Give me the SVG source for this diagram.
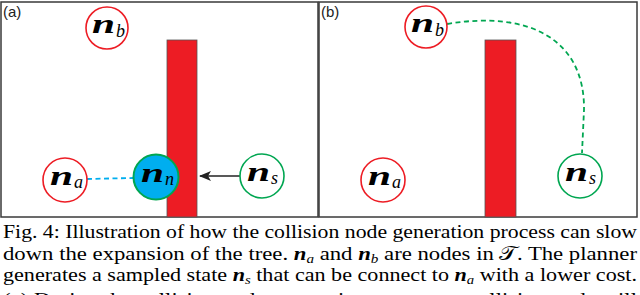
<svg xmlns="http://www.w3.org/2000/svg" width="640" height="295" viewBox="0 0 640 295">
<defs>
<style>
.panel{fill:#fff;stroke:#3a3a3a;stroke-width:1.5}
.bar{fill:#ED1C24;stroke:#555;stroke-width:0.8}
.red{fill:#fff;stroke:#ED1C24;stroke-width:1.6}
.grn{fill:#fff;stroke:#00A651;stroke-width:1.6}
.nn{fill:#00AEEF;stroke:#00A651;stroke-width:2}
</style>
<marker id="ah" viewBox="0 0 12 10" refX="11" refY="5" markerWidth="12" markerHeight="10" markerUnits="userSpaceOnUse" orient="auto">
<path d="M0,0 L12,5 L0,10 L3,5 Z" fill="#222"/>
</marker>
</defs>
<rect class="panel" x="1" y="2" width="317" height="215"/>
<rect class="panel" x="319" y="2" width="318" height="215"/>
<g font-family="Liberation Sans" font-size="15" fill="#222">
<text x="3" y="17">(a)</text>
<text x="321" y="17">(b)</text>
</g>
<rect class="bar" x="167" y="40" width="30" height="177"/>
<rect class="bar" x="485" y="40" width="31" height="177"/>
<g id="connectors">
<line x1="87" y1="179" x2="133" y2="178" stroke="#00AEEF" stroke-width="1.8" stroke-dasharray="5,3.5"/>
<line x1="240" y1="176" x2="200" y2="176" stroke="#222" stroke-width="1.6" marker-end="url(#ah)"/>
<path d="M447,24 C530,10 585,40 584,110 L582,153" fill="none" stroke="#00A651" stroke-width="1.8" stroke-dasharray="5,3.5"/>
</g>
<g font-family="Liberation Serif" fill="#000">
<g id="a_nb"><circle class="red" cx="107" cy="28" r="21"/><text x="92" y="33" font-size="27" font-style="italic" font-weight="bold" textLength="23" lengthAdjust="spacingAndGlyphs">n</text><text x="116" y="37" font-size="18" font-style="italic">b</text></g>
<g id="a_na"><circle class="red" cx="65" cy="180" r="22"/><text x="50" y="185" font-size="27" font-style="italic" font-weight="bold" textLength="23" lengthAdjust="spacingAndGlyphs">n</text><text x="74" y="188" font-size="18" font-style="italic">a</text></g>
<g id="a_nn"><circle class="nn" cx="156" cy="177" r="22.5"/><text x="141" y="182" font-size="27" font-style="italic" font-weight="bold" textLength="23" lengthAdjust="spacingAndGlyphs">n</text><text x="165" y="185" font-size="18" font-style="italic">n</text></g>
<g id="a_ns"><circle class="grn" cx="262" cy="176" r="22"/><text x="247" y="181" font-size="27" font-style="italic" font-weight="bold" textLength="23" lengthAdjust="spacingAndGlyphs">n</text><text x="271" y="184" font-size="18" font-style="italic">s</text></g>
<g id="b_nb"><circle class="red" cx="426" cy="27" r="21"/><text x="411" y="32" font-size="27" font-style="italic" font-weight="bold" textLength="23" lengthAdjust="spacingAndGlyphs">n</text><text x="435" y="36" font-size="18" font-style="italic">b</text></g>
<g id="b_na"><circle class="red" cx="383" cy="180" r="22"/><text x="368" y="185" font-size="27" font-style="italic" font-weight="bold" textLength="23" lengthAdjust="spacingAndGlyphs">n</text><text x="392" y="188" font-size="18" font-style="italic">a</text></g>
<g id="b_ns"><circle class="grn" cx="580" cy="176" r="22"/><text x="565" y="181" font-size="27" font-style="italic" font-weight="bold" textLength="23" lengthAdjust="spacingAndGlyphs">n</text><text x="589" y="184" font-size="18" font-style="italic">s</text></g>
</g>
<g font-family="Liberation Serif" font-size="19.5" fill="#000">
<text x="3" y="238" textLength="634" lengthAdjust="spacingAndGlyphs">Fig. 4: Illustration of how the collision node generation process can slow</text>
<text x="3" y="260" textLength="634" lengthAdjust="spacingAndGlyphs">down the expansion of the tree. <tspan font-style="italic" font-weight="bold">n</tspan><tspan font-style="italic" font-size="13" dy="3">a</tspan><tspan dy="-3"> and </tspan><tspan font-style="italic" font-weight="bold">n</tspan><tspan font-style="italic" font-size="13" dy="3">b</tspan><tspan dy="-3"> are nodes in </tspan><tspan>𝒯</tspan>. The planner</text>
<text x="3" y="281" textLength="634" lengthAdjust="spacingAndGlyphs">generates a sampled state <tspan font-style="italic" font-weight="bold">n</tspan><tspan font-style="italic" font-size="13" dy="3">s</tspan><tspan dy="-3"> that can be connect to </tspan><tspan font-style="italic" font-weight="bold">n</tspan><tspan font-style="italic" font-size="13" dy="3">a</tspan><tspan dy="-3"> with a lower cost.</tspan></text>
<text x="3" y="306" textLength="634" lengthAdjust="spacingAndGlyphs">(a) During the collision node generation process, a collision node will</text>
</g>
</svg>
